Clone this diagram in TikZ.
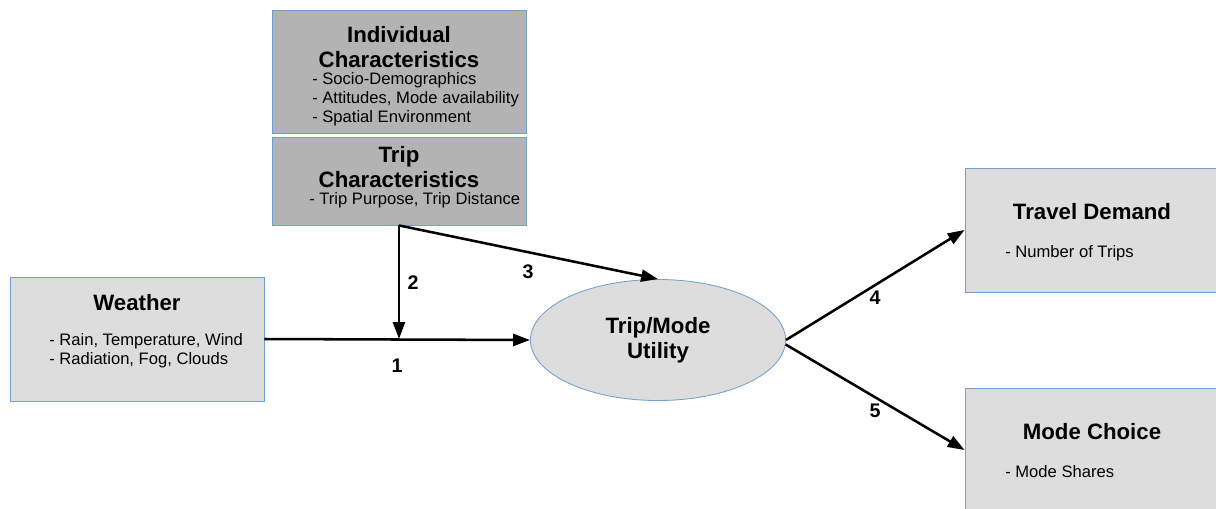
\documentclass[tikz,border=0pt]{standalone}
\usepackage{fontspec}
\setmainfont{Liberation Sans}
\usetikzlibrary{positioning, arrows.meta, shapes.geometric}

\definecolor{boxdark}{HTML}{B3B3B3}
\definecolor{boxlight}{HTML}{DDDDDD}
\definecolor{boxline}{HTML}{729FCF}

\begin{document}
\begin{tikzpicture}[x=0.025cm, y=-0.025cm,
    darkbox/.style={draw=boxline, line width=0.6pt, fill=boxdark, minimum width=6.35cm, inner sep=0pt},
    lightbox/.style={draw=boxline, line width=0.6pt, fill=boxlight, minimum width=6.35cm, minimum height=3.1cm, inner sep=0pt},
    boxtitle/.style={font=\fontsize{15.8}{17.8}\selectfont\bfseries, align=center, inner sep=0pt},
    items/.style={font=\fontsize{11.8}{13.4}\selectfont, align=left, anchor=west, inner sep=0pt},
    num/.style={font=\fontsize{14}{16}\selectfont\bfseries, inner sep=0pt},
    flow/.style={line width=1.8pt, -{Triangle[length=12pt, width=8.5pt]}}]
    \useasboundingbox (0,0) rectangle (1216,508);

    % boxes
    \node[darkbox, minimum height=3.075cm] (indiv) at (399,71.5) {};
    \node[darkbox, minimum height=2.2cm] (trip) at (399,181) {};
    \node[lightbox] (weather) at (137,339) {};
    \node[lightbox] (travel) at (1092,230) {};
    \node[lightbox] (mode) at (1092,450) {};
    \node[ellipse, draw=boxline, line width=0.6pt, fill=boxlight, minimum width=6.375cm, minimum height=3.025cm, inner sep=0pt] (ell) at (658,340) {};

    % texts
    \node[boxtitle] (indivT) at (399,47.5) {Individual\\Characteristics};
    \node[items] (indivL) at (312,99.5) {- Socio-Demographics\\- Attitudes, Mode availability\\- Spatial Environment};
    \node[boxtitle] (tripT) at (399,167) {Trip\\Characteristics};
    \node[items] (tripL) at (309,200) {- Trip Purpose, Trip Distance};
    \node[boxtitle] (weatherT) at (137,303) {Weather};
    \node[items] (weatherL) at (49,350.5) {- Rain, Temperature, Wind\\- Radiation, Fog, Clouds};
    \node[boxtitle] (ellT) at (658,340) {Trip/Mode\\Utility};
    \node[boxtitle] (travelT) at (1092,212) {Travel Demand};
    \node[items] (travelL) at (1005,253) {- Number of Trips};
    \node[boxtitle] (modeT) at (1092,432) {Mode Choice};
    \node[items] (modeL) at (1005,472) {- Mode Shares};

    % arrows
    \coordinate (join) at (399,339);
    \draw[flow] (weather.east) -- (ell.west);
    \draw[flow] (trip.south) -- (join);
    \draw[flow] (trip.south) -- (ell.north);
    \draw[flow] (ell.east) -- (travel.west);
    \draw[flow] (ell.-2) -- (mode.west);

    % numbers
    \node[num] (n1) at (397,366) {1};
    \node[num] (n2) at (413,283) {2};
    \node[num] (n3) at (528,272) {3};
    \node[num] (n4) at (875,298) {4};
    \node[num] (n5) at (875,411) {5};
\end{tikzpicture}
\end{document}
